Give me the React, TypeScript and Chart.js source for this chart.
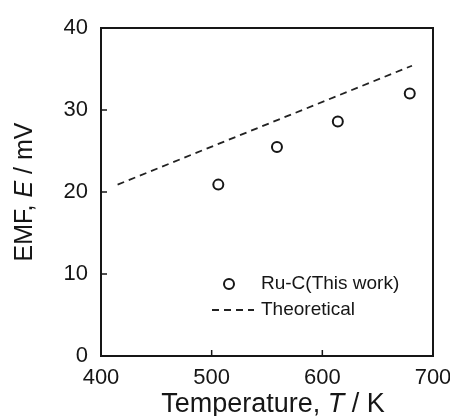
import React, { useEffect, useRef } from "react";
import { Chart, registerables } from "chart.js";

Chart.register(...registerables);

// ---- data ----
const temperatures = [506, 559, 614, 679];
const emfValues = [20.9, 25.5, 28.6, 32.0];
const theoryT = [415, 681];
const theoryE = [20.9, 35.4];
const xTicks = [400, 500, 600, 700];
const yTicks = [0, 10, 20, 30, 40];
const legendLabels = ["Ru-C(This work)", "Theoretical"];

const FONT = "'Liberation Sans', Arial, sans-serif";
const INK = "#161616";

function drawMixed(ctx: CanvasRenderingContext2D, parts: { t: string; italic?: boolean }[], size: number) {
  const fonts = parts.map((p) => `${p.italic ? "italic " : ""}${size}px ${FONT}`);
  let total = 0;
  const widths = parts.map((p, i) => {
    ctx.font = fonts[i];
    const w = ctx.measureText(p.t).width;
    total += w;
    return w;
  });
  let x = -total / 2;
  parts.forEach((p, i) => {
    ctx.font = fonts[i];
    ctx.fillText(p.t, x, 0);
    x += widths[i];
  });
}

const framePlugin = {
  id: "frame",
  afterDraw(chart: any) {
    const { ctx, chartArea: a, scales } = chart;
    const xs = scales.x;
    const ys = scales.y;
    ctx.save();
    ctx.strokeStyle = INK;
    ctx.lineWidth = 2;
    ctx.strokeRect(a.left, a.top, a.right - a.left, a.bottom - a.top);
    // inward ticks
    ctx.lineWidth = 1.5;
    ctx.beginPath();
    xs.ticks.forEach((t: any) => {
      if (t.value <= xs.min || t.value >= xs.max) return;
      const px = xs.getPixelForValue(t.value);
      ctx.moveTo(px, a.bottom);
      ctx.lineTo(px, a.bottom - 6);
    });
    ys.ticks.forEach((t: any) => {
      if (t.value <= ys.min || t.value >= ys.max) return;
      const py = ys.getPixelForValue(t.value);
      ctx.moveTo(a.left, py);
      ctx.lineTo(a.left + 6, py);
    });
    ctx.stroke();

    // axis titles
    ctx.fillStyle = INK;
    ctx.textBaseline = "alphabetic";
    ctx.textAlign = "left";
    ctx.save();
    ctx.translate((a.left + a.right) / 2 + 6, 411.5);
    drawMixed(ctx, [{ t: "Temperature, " }, { t: "T", italic: true }, { t: " / K" }], 27);
    ctx.restore();
    ctx.save();
    ctx.translate(31.5, (a.top + a.bottom) / 2);
    ctx.rotate(-Math.PI / 2);
    drawMixed(ctx, [{ t: "EMF, " }, { t: "E", italic: true }, { t: " / mV" }], 25);
    ctx.restore();

    // legend
    const lx = a.left + 128;
    const ly1 = a.top + 256;
    const ly2 = a.top + 282;
    ctx.strokeStyle = INK;
    ctx.lineWidth = 2;
    ctx.beginPath();
    ctx.arc(lx, ly1, 5, 0, Math.PI * 2);
    ctx.stroke();
    ctx.setLineDash([7, 5]);
    ctx.lineWidth = 1.8;
    ctx.strokeStyle = "#222";
    ctx.beginPath();
    ctx.moveTo(a.left + 111, ly2);
    ctx.lineTo(a.left + 153, ly2);
    ctx.stroke();
    ctx.setLineDash([]);
    ctx.font = `19px ${FONT}`;
    ctx.textBaseline = "middle";
    ctx.fillText(legendLabels[0], a.left + 160, ly1);
    ctx.fillText(legendLabels[1], a.left + 160, ly2);
    ctx.restore();
  },
};

export default function App() {
  const ref = useRef<HTMLCanvasElement>(null);
  useEffect(() => {
    document.body.style.margin = "0";
    const chart = new Chart(ref.current!, {
      type: "scatter",
      data: {
        datasets: [
          {
            label: legendLabels[0],
            data: temperatures.map((t, i) => ({ x: t, y: emfValues[i] })),
            pointStyle: "circle",
            pointRadius: 5,
            pointBorderWidth: 2,
            pointBorderColor: INK,
            pointBackgroundColor: "rgba(0,0,0,0)",
            showLine: false,
          },
          {
            label: legendLabels[1],
            data: theoryT.map((t, i) => ({ x: t, y: theoryE[i] })),
            showLine: true,
            borderColor: "#222",
            borderWidth: 1.8,
            borderDash: [7, 5],
            pointRadius: 0,
            fill: false,
          },
        ],
      },
      options: {
        responsive: false,
        animation: false,
        layout: { padding: { top: 28, right: 17, left: 0, bottom: 0 } },
        plugins: { legend: { display: false }, tooltip: { enabled: false } },
        scales: {
          x: {
            type: "linear",
            min: xTicks[0],
            max: xTicks[xTicks.length - 1],
            afterBuildTicks: (s: any) => {
              s.ticks = xTicks.map((v) => ({ value: v }));
            },
            afterFit: (s: any) => {
              s.height = 60;
              s.paddingLeft = 0;
              s.paddingRight = 0;
            },
            grid: { display: false, drawTicks: false },
            border: { display: false },
            ticks: {
              padding: 9,
              autoSkip: false,
              maxRotation: 0,
              color: INK,
              font: { family: FONT, size: 22 },
            },
          },
          y: {
            type: "linear",
            min: yTicks[0],
            max: yTicks[yTicks.length - 1],
            afterBuildTicks: (s: any) => {
              s.ticks = yTicks.map((v) => ({ value: v }));
            },
            afterFit: (s: any) => {
              s.width = 101;
              s.paddingTop = 0;
              s.paddingBottom = 0;
            },
            grid: { display: false, drawTicks: false },
            border: { display: false },
            ticks: {
              padding: 13,
              autoSkip: false,
              color: INK,
              font: { family: FONT, size: 22 },
            },
          },
        },
      },
      plugins: [framePlugin],
    });
    return () => chart.destroy();
  }, []);
  return (
    <div style={{ position: "absolute", left: 0, top: 0, width: 450, height: 416, background: "#fff" }}>
      <canvas ref={ref} width={450} height={416} />
    </div>
  );
}
